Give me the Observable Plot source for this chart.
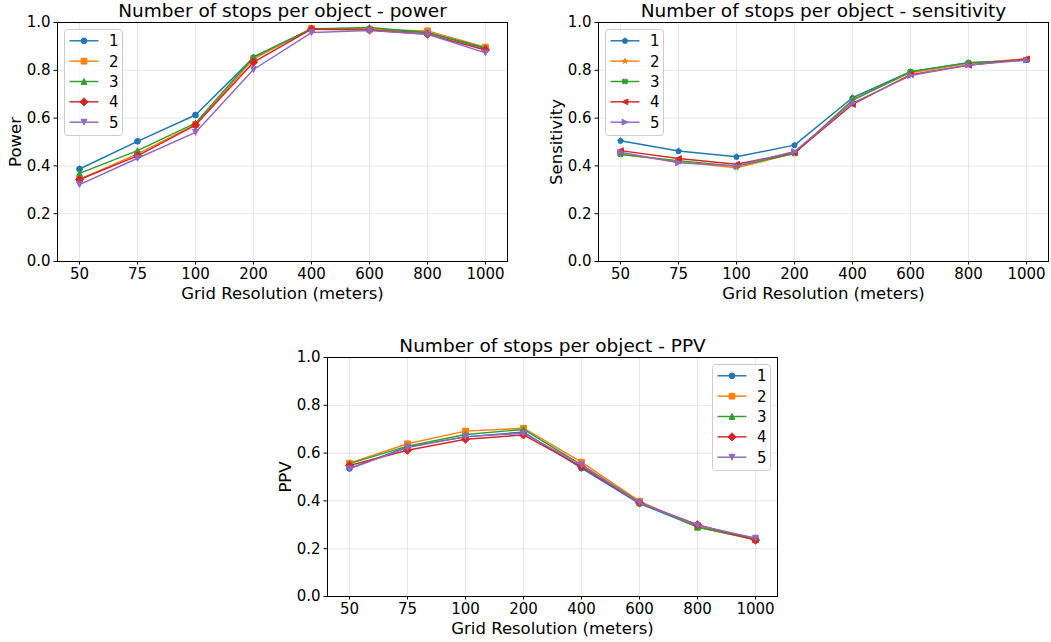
<!DOCTYPE html>
<html><head><meta charset="utf-8">
<script src="https://cdn.jsdelivr.net/npm/d3@7"></script>
<script src="https://cdn.jsdelivr.net/npm/@observablehq/plot@0.6"></script>
<style>
body{margin:0;background:#fff;}
#root{position:relative;width:1051px;height:642px;overflow:hidden;font-family:"DejaVu Sans",sans-serif;background:#fff;}
.panel{position:absolute;}
.legend{position:absolute;}
</style></head><body><div id="root"></div>
<script>
// ---------- data ----------
const resolutions = ["50","75","100","200","400","600","800","1000"];
const seriesNames = ["1","2","3","4","5"];
const colors = ["#1f77b4","#ff7f0e","#2ca02c","#d62728","#9467bd"];
const yTicks = [0,0.2,0.4,0.6,0.8,1.0];

const power = [
  [0.387,0.503,0.613,0.853,0.974,0.972,0.958,0.891],
  [0.343,0.450,0.573,0.847,0.975,0.972,0.965,0.897],
  [0.369,0.464,0.579,0.856,0.973,0.979,0.958,0.894],
  [0.343,0.442,0.571,0.834,0.972,0.969,0.951,0.885],
  [0.322,0.432,0.540,0.803,0.958,0.966,0.951,0.873]
];
const sensitivity = [
  [0.505,0.462,0.438,0.487,0.685,0.794,0.832,0.843],
  [0.450,0.417,0.392,0.453,0.677,0.790,0.828,0.848],
  [0.448,0.422,0.399,0.452,0.674,0.794,0.832,0.842],
  [0.464,0.431,0.407,0.455,0.657,0.782,0.821,0.848],
  [0.457,0.413,0.400,0.460,0.663,0.778,0.822,0.843]
];
const ppv = [
  [0.536,0.626,0.668,0.688,0.537,0.389,0.291,0.244],
  [0.558,0.639,0.692,0.704,0.562,0.399,0.291,0.237],
  [0.556,0.629,0.678,0.699,0.551,0.395,0.290,0.238],
  [0.548,0.612,0.658,0.676,0.543,0.392,0.300,0.236],
  [0.534,0.623,0.669,0.683,0.551,0.392,0.298,0.244]
];

// ---------- matplotlib-like marker shapes ----------
function poly(ctx, pts){ ctx.moveTo(pts[0][0],pts[0][1]); for(let i=1;i<pts.length;i++) ctx.lineTo(pts[i][0],pts[i][1]); ctx.closePath(); }
const rad = s => Math.sqrt(s/Math.PI);
const mCircle = {draw(ctx,s){const R=rad(s); ctx.moveTo(R,0); ctx.arc(0,0,R,0,2*Math.PI);}};
const mSquare = {draw(ctx,s){const R=rad(s); poly(ctx,[[-R,-R],[R,-R],[R,R],[-R,R]]);}};
const mTriUp = {draw(ctx,s){const R=rad(s); poly(ctx,[[0,-R],[R,R],[-R,R]]);}};
const mTriDown = {draw(ctx,s){const R=rad(s); poly(ctx,[[0,R],[R,-R],[-R,-R]]);}};
const mTriLeft = {draw(ctx,s){const R=rad(s); poly(ctx,[[-R,0],[R,-R],[R,R]]);}};
const mTriRight = {draw(ctx,s){const R=rad(s); poly(ctx,[[R,0],[-R,-R],[-R,R]]);}};
const mDiamond = {draw(ctx,s){const R=rad(s)*Math.SQRT2; poly(ctx,[[0,-R],[R,0],[0,R],[-R,0]]);}};
const mPentagon = {draw(ctx,s){const R=rad(s); const p=[]; for(let i=0;i<5;i++){const a=-Math.PI/2+i*2*Math.PI/5; p.push([R*Math.cos(a),R*Math.sin(a)]);} poly(ctx,p);}};
const mStar = {draw(ctx,s){const R=rad(s), r=R*0.381966; const p=[]; for(let i=0;i<10;i++){const a=-Math.PI/2+i*Math.PI/5; const q=i%2?r:R; p.push([q*Math.cos(a),q*Math.sin(a)]);} poly(ctx,p);}};
const mXFilled = {draw(ctx,s){const R=rad(s), u=R/3, c=Math.SQRT1_2;
  const base=[[-1,-3],[1,-3],[1,-1],[3,-1],[3,1],[1,1],[1,3],[-1,3],[-1,1],[-3,1],[-3,-1],[-1,-1]];
  poly(ctx, base.map(([x,y])=>[(x*c-y*c)*u,(x*c+y*c)*u]));}};

const symbolsA = [mCircle,mSquare,mTriUp,mDiamond,mTriDown];
const symbolsB = [mPentagon,mStar,mXFilled,mTriLeft,mTriRight];

const root = document.getElementById("root");
const FONT = "DejaVu Sans";
const TICK_FS = 15;

function drawPanel({left, top, width, marginLeft, marginRight, values, symbols, title, ylabel, r}){
  const rows = [];
  values.forEach((vals, i) => vals.forEach((v, j) => rows.push({series: seriesNames[i], res: resolutions[j], v})));
  const marks = [
    Plot.gridX(resolutions, {stroke:"#b0b0b0", strokeOpacity:0.3, strokeWidth:1}),
    Plot.gridY(yTicks, {stroke:"#b0b0b0", strokeOpacity:0.3, strokeWidth:1}),
    Plot.axisX({tickSize:3.5, tickPadding:3.5, fontSize:TICK_FS, label:null, stroke:"black"}),
    Plot.axisY(yTicks, {tickSize:3.5, tickPadding:3.5, fontSize:TICK_FS, label:null, tickFormat:d3.format(".1f"), stroke:"black"}),
  ];
  seriesNames.forEach((s, i) => {
    const d = rows.filter(r => r.series === s);
    marks.push(Plot.line(d, {x:"res", y:"v", stroke:colors[i], strokeWidth:1.45}));
    marks.push(Plot.dot(d, {x:"res", y:"v", fill:colors[i], stroke:colors[i], strokeWidth:1, symbol:symbols[i], r}));
  });
  marks.push(Plot.frame({stroke:"black", strokeWidth:1}));
  marks.push(Plot.text([title], {frameAnchor:"top", lineAnchor:"middle", textAnchor:"middle", dy:-11.5, fontSize:18.5, fill:"black"}));
  marks.push(Plot.text(["Grid Resolution (meters)"], {frameAnchor:"bottom", lineAnchor:"middle", textAnchor:"middle", dy:32, fontSize:16.5, fill:"black"}));
  marks.push(Plot.text([ylabel], {frameAnchor:"left", lineAnchor:"middle", textAnchor:"middle", rotate:-90, dx:-42, fontSize:16.5, fill:"black"}));

  const svg = Plot.plot({
    width, height:305, marginLeft, marginRight, marginTop:22, marginBottom:44,
    style:{fontFamily:FONT, color:"black", background:"transparent", overflow:"visible"},
    x:{type:"point", domain:resolutions, padding:0.35},
    y:{domain:[0,1]},
    marks
  });
  const div = document.createElement("div");
  div.className = "panel";
  div.style.left = left + "px"; div.style.top = top + "px";
  div.appendChild(svg);
  root.appendChild(div);
}

function drawLegend(left, top, symbols, r){
  const w = 58, h = 106;
  const svg = d3.create("svg").attr("width", w+2).attr("height", h+2).attr("class","legend")
    .style("left", left+"px").style("top", top+"px").style("font-family", FONT);
  svg.append("rect").attr("x",0.5).attr("y",0.5).attr("width",w).attr("height",h).attr("rx",3)
    .attr("fill","white").attr("fill-opacity",0.8).attr("stroke","#cccccc").attr("stroke-width",1);
  seriesNames.forEach((s,i) => {
    const y = 11.8 + i*20.35;
    const g = svg.append("g");
    g.append("line").attr("x1",5.5).attr("x2",34.5).attr("y1",y).attr("y2",y).attr("stroke",colors[i]).attr("stroke-width",1.45);
    const p = d3.path(); symbols[i].draw(p, Math.PI*r*r);
    g.append("path").attr("d", p.toString()).attr("transform",`translate(20,${y})`).attr("fill",colors[i]).attr("stroke",colors[i]).attr("stroke-width",1);
    g.append("text").attr("x",45).attr("y",y).attr("dy","0.36em").attr("font-size",TICK_FS).attr("fill","black").text(s);
  });
  root.appendChild(svg.node());
}

const R = 2.9;
drawPanel({left:0, top:0, width:520, marginLeft:57, marginRight:13, values:power, symbols:symbolsA, title:"Number of stops per object - power", ylabel:"Power", r:R});
drawPanel({left:540, top:0, width:511, marginLeft:58, marginRight:3, values:sensitivity, symbols:symbolsB, title:"Number of stops per object - sensitivity", ylabel:"Sensitivity", r:R});
drawPanel({left:270, top:335, width:520, marginLeft:57, marginRight:13, values:ppv, symbols:symbolsA, title:"Number of stops per object - PPV", ylabel:"PPV", r:R});
drawLegend(64, 29, symbolsA, R);
drawLegend(605, 29, symbolsB, R);
drawLegend(712, 364, symbolsA, R);
</script></body></html>
